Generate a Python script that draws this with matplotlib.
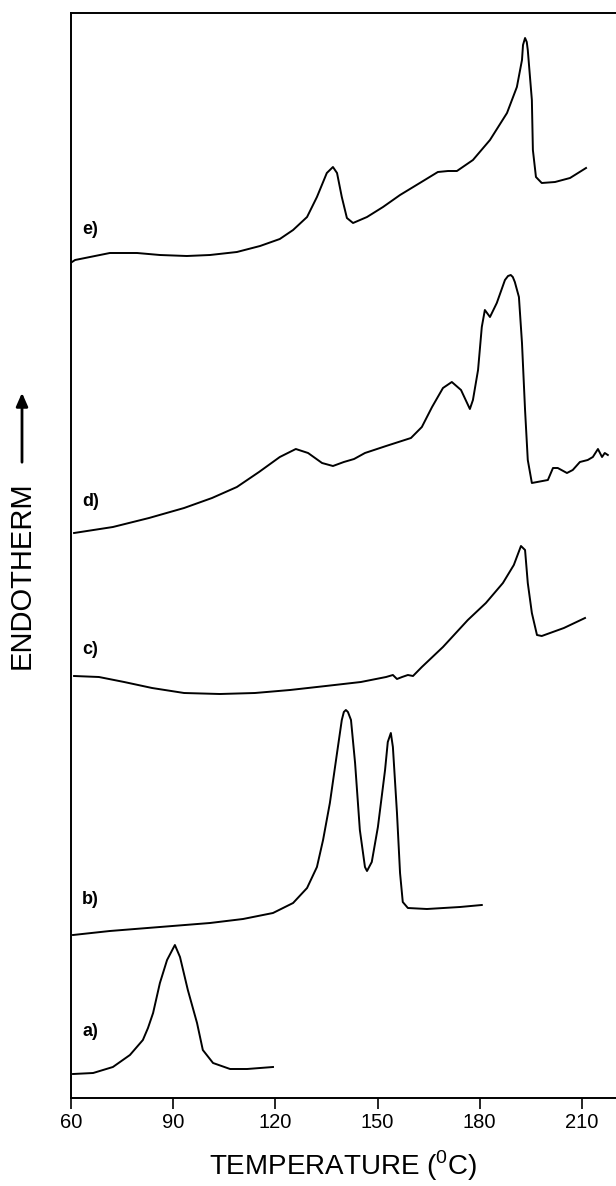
import matplotlib
matplotlib.use('Agg')
import matplotlib.pyplot as plt

plt.rcParams['font.family'] = ['Liberation Sans', 'DejaVu Sans']
plt.rcParams['mathtext.fontset'] = 'custom'
plt.rcParams['mathtext.rm'] = 'Liberation Sans'

### Data (temperature in C, signal in arbitrary units, offset per trace)
temp_a = [60.6, 66.5, 72.3, 77.3, 81.1, 82.6, 84.1, 86.1, 88.2, 90.5, 92.0, 94.3, 97.0, 98.7,
          101.7, 106.7, 111.7, 119.3]
heat_a = [24, 25, 31, 43, 58, 70, 85, 115, 138, 153, 141, 108, 75, 48, 35, 29, 29, 31]

temp_b = [60.6, 71.4, 86.1, 100.8, 110.5, 119.3, 125.2, 129.3, 132.2, 134.0, 136.0, 138.1,
          139.5, 140.1, 140.7, 141.3, 142.2, 143.4, 144.8, 146.3, 146.9, 148.3, 150.1, 152.2,
          153.0, 153.9, 154.5, 155.7, 156.6, 157.4, 158.9, 164.5, 174.2, 180.6]
heat_b = [163, 167, 171, 175, 179, 185, 195, 210, 231, 258, 295, 345, 378, 386, 388, 386,
          378, 335, 268, 231, 227, 236, 271, 328, 356, 365, 351, 285, 225, 196, 190, 189,
          191, 193]

temp_c = [60.9, 68.2, 75.6, 83.8, 93.2, 103.7, 114.0, 124.3, 134.8, 145.1, 152.5, 154.5,
          155.7, 157.2, 158.9, 160.4, 163.0, 169.2, 176.5, 181.8, 186.8, 190.0, 192.1, 193.3,
          194.1, 195.3, 196.8, 198.2, 204.7, 210.9]
heat_c = [422, 421, 416, 410, 405, 404, 405, 408, 412, 416, 421, 423, 419, 421, 423, 422,
          431, 451, 478, 495, 515, 533, 552, 548, 515, 485, 463, 462, 470, 480]

temp_d = [60.9, 72.3, 82.9, 93.2, 101.4, 108.7, 115.2, 121.3, 126.0, 129.6, 133.7, 136.9,
          140.1, 143.1, 146.3, 152.5, 159.8, 163.0, 166.0, 169.2, 171.8, 174.5, 177.1, 178.0,
          179.5, 180.6, 181.5, 183.0, 185.0, 187.4, 188.3, 189.1, 189.7, 190.3, 191.5, 192.4,
          193.3, 194.1, 195.3, 200.0, 201.5, 202.9, 205.6, 207.3, 209.4, 211.7, 213.2, 214.7,
          215.9, 216.7, 217.6]
heat_d = [565, 571, 580, 590, 600, 611, 626, 641, 649, 645, 635, 632, 636, 639, 645, 652,
          660, 671, 691, 710, 716, 708, 689, 698, 728, 771, 788, 781, 795, 818, 822, 823,
          821, 816, 801, 755, 688, 638, 615, 618, 630, 630, 625, 628, 636, 638, 641, 649,
          641, 645, 643]

temp_e = [60.3, 61.2, 71.4, 79.4, 86.1, 94.0, 100.8, 108.7, 115.5, 121.3, 125.2, 129.3,
          132.2, 135.1, 136.9, 138.1, 139.5, 141.0, 142.8, 146.9, 151.6, 156.6, 162.4, 167.7,
          170.7, 173.3, 178.0, 183.0, 188.0, 190.9, 192.4, 192.7, 193.3, 193.8, 194.1, 195.3,
          195.6, 196.5, 198.2, 202.1, 206.5, 211.2]
heat_e = [836, 838, 845, 845, 843, 842, 843, 846, 852, 859, 868, 881, 901, 925, 931, 925,
          901, 880, 875, 881, 891, 903, 915, 926, 927, 927, 938, 958, 985, 1011, 1038, 1053,
          1060, 1056, 1048, 998, 948, 921, 915, 916, 920, 930]

trace_labels = ['a)', 'b)', 'c)', 'd)', 'e)']
xticks = [60, 90, 120, 150, 180, 210]

### Plotting
fig = plt.figure(figsize=(6.16, 11.86), dpi=100)
ax = fig.add_axes([71 / 616, 88 / 1186, 545 / 616, 1085 / 1186])

traces = [(temp_a, heat_a), (temp_b, heat_b), (temp_c, heat_c), (temp_d, heat_d), (temp_e, heat_e)]
for temp, heat in traces:
    ax.plot(temp, heat, color='black', lw=1.4, solid_joinstyle='round')

# trace labels sit just above each baseline
label_y = [66, 198, 448, 596, 868]
for lab, y in zip(trace_labels, label_y):
    ax.text(63.3, y, lab, fontsize=13, fontweight='bold', ha='left', va='center')

ax.set_xlim(60, 220)
ax.set_ylim(0, 1085)
ax.spines['right'].set_visible(False)
for s in ('left', 'top', 'bottom'):
    ax.spines[s].set_linewidth(1.4)
ax.set_yticks([])
ax.set_xticks(xticks)
ax.tick_params(axis='x', direction='out', length=8, width=1.2, labelsize=14.5, pad=3)
ax.set_xlabel(r'TEMPERATURE ($^{\mathrm{0}}$C)', fontsize=20, labelpad=12)

# y label with upward arrow
fig.text(22 / 616, 1 - 575 / 1186, 'ENDOTHERM', rotation=90, fontsize=21,
         ha='center', va='center')
fig.patches.append(matplotlib.patches.FancyArrowPatch(
    (22 / 616, 1 - 465 / 1186), (22 / 616, 1 - 390 / 1186), transform=fig.transFigure,
    arrowstyle='-|>,head_length=8,head_width=3.5', color='black', lw=2.0))

fig.savefig('out.png', dpi=100)
